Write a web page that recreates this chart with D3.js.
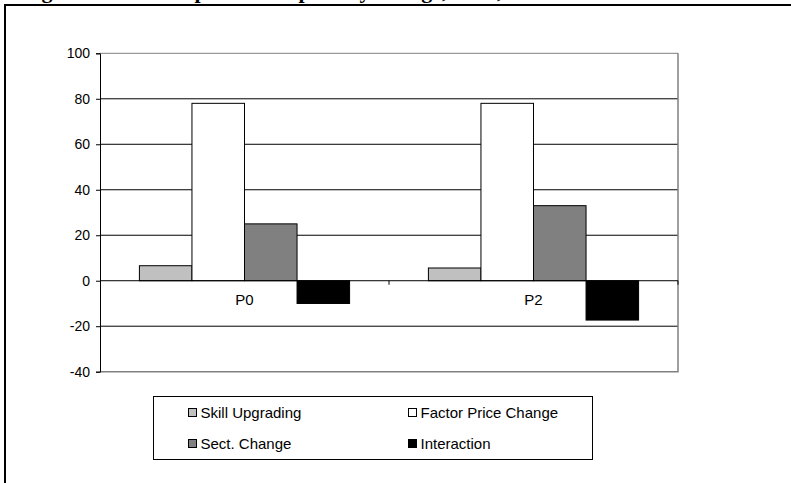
<!DOCTYPE html>
<html>
<head>
<meta charset="utf-8">
<title>Decomposition of poverty change</title>
<script src="https://d3js.org/d3.v7.min.js"></script>
<style>
  body { margin: 0; background: #fff; }
  text { font-family: Arial, "Liberation Sans", sans-serif; }
</style>
</head>
<body>
<svg width="791" height="483"></svg>
<script>
// data
var categories = ["P0", "P2"];
var seriesNames = ["Skill Upgrading", "Factor Price Change", "Sect. Change", "Interaction"];
var skillUpgrading = [6.6, 5.6];
var factorPrice = [78, 78];
var sectChange = [25, 33];
var interaction = [-10, -17.3];
var yTicks = [-40, -20, 0, 20, 40, 60, 80, 100];

var fills = ["#c0c0c0", "#ffffff", "#808080", "#000000"];
var values = [skillUpgrading, factorPrice, sectChange, interaction];

var svg = d3.select("svg");

// outer frame + caption (only its lower edge shows in the original)
svg.append("rect").attr("x", 5).attr("y", 5).attr("width", 800).attr("height", 500)
  .attr("fill", "none").attr("stroke", "#000").attr("stroke-width", 2);
svg.append("text").attr("x", 22).attr("y", -2.5)
  .style("font-family", "'Liberation Serif', 'Times New Roman', serif")
  .attr("font-weight", "bold").attr("font-size", 22)
  .text("Figure 4.2: Decomposition of poverty change, 1987, 1998");

var plot = {left: 100, right: 678, top: 53.3, bottom: 371.7};

var x = d3.scaleBand().domain(categories).range([plot.left, plot.right]);
var y = d3.scaleLinear().domain([-40, 100]).range([plot.bottom, plot.top]);
// 4 bars, gap width 150%
var barW = x.bandwidth() / (4 + 1.5);

var g = svg.append("g");

// gridlines
g.selectAll(".grid").data(yTicks.filter(d => d != -40 && d != 0)).enter()
  .append("line")
  .attr("x1", plot.left).attr("x2", plot.right)
  .attr("y1", d => y(d)).attr("y2", d => y(d))
  .attr("stroke", d => d == 100 ? "#808080" : "#000").attr("stroke-width", 1);

// plot area border (right / bottom)
g.append("path")
  .attr("d", "M" + plot.right + "," + plot.top + "V" + plot.bottom + "H" + plot.left)
  .attr("fill", "none").attr("stroke", "#808080").attr("stroke-width", 1.5);

// bars
var bars = [];
categories.forEach(function(c, i) {
  values.forEach(function(s, j) {
    bars.push({cat: c, k: j, v: s[i]});
  });
});
g.selectAll(".bar").data(bars).enter().append("rect")
  .attr("x", d => x(d.cat) + barW * 0.75 + d.k * barW)
  .attr("y", d => y(Math.max(0, d.v)))
  .attr("width", barW)
  .attr("height", d => Math.abs(y(d.v) - y(0)))
  .attr("fill", d => fills[d.k])
  .attr("stroke", "#000").attr("stroke-width", 1);

// y axis (plain hyphen minus, like the original)
var yAxis = d3.axisLeft(y).tickValues(yTicks).tickSize(4).tickPadding(6)
  .tickFormat(d => String(d));
var ya = g.append("g").attr("transform", "translate(" + plot.left + ",0)").call(yAxis);
ya.select(".domain").attr("stroke", "#000");
ya.selectAll("text").attr("font-size", 14).attr("fill", "#000")
  .style("font-family", "Arial, 'Liberation Sans', sans-serif");

// x axis at zero
var xa = g.append("g").attr("transform", "translate(0," + y(0) + ")")
  .call(d3.axisBottom(x).tickSize(0).tickPadding(14));
xa.select(".domain").remove();
xa.selectAll("text").attr("font-size", 15).attr("fill", "#000")
  .style("font-family", "Arial, 'Liberation Sans', sans-serif");
g.append("line").attr("x1", plot.left).attr("x2", plot.right)
  .attr("y1", y(0)).attr("y2", y(0)).attr("stroke", "#000");
// category boundary tick marks
g.selectAll(".xt").data(categories.slice(1).concat(["end"])).enter().append("line")
  .attr("x1", d => d == "end" ? plot.right : x(d))
  .attr("x2", d => d == "end" ? plot.right : x(d))
  .attr("y1", y(0)).attr("y2", y(0) + 4).attr("stroke", "#000");

// legend
var lg = svg.append("g").attr("transform", "translate(153.5,396.5)");
lg.append("rect").attr("width", 439).attr("height", 63)
  .attr("fill", "#fff").attr("stroke", "#000").attr("stroke-width", 1);
var item = lg.selectAll(".item").data(seriesNames).enter().append("g")
  .attr("transform", (d, i) => "translate(" + (i % 2 ? 255 : 35) + "," + (i < 2 ? 16 : 47) + ")");
item.append("rect").attr("x", 0).attr("y", -4).attr("width", 8).attr("height", 8)
  .attr("fill", (d, i) => fills[i]).attr("stroke", "#000");
item.append("text").attr("x", 12).attr("y", 5.5).attr("font-size", 15).text(d => d);
</script>
</body>
</html>
